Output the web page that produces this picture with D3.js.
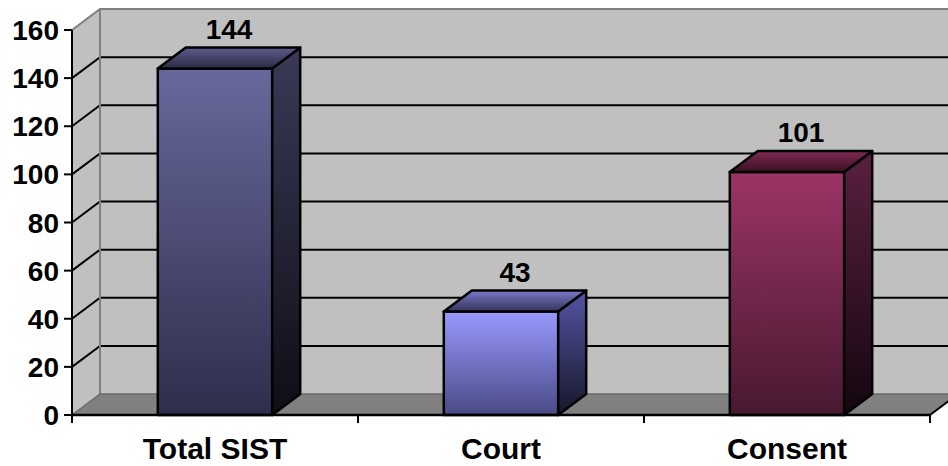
<!DOCTYPE html>
<html>
<head>
<meta charset="utf-8">
<script src="https://cdn.jsdelivr.net/npm/d3@7"></script>
<style>
  html, body { margin: 0; padding: 0; background: #ffffff; }
  svg { display: block; }
  text { font-family: "Liberation Sans", Arial, sans-serif; font-weight: bold; fill: #000; }
</style>
</head>
<body>
<svg id="chart" width="948" height="466"></svg>
<script>
// Case counts per category
const categories = ["Total SIST", "Court", "Consent"];
const values = [144, 43, 101];
const yTicks = [0, 20, 40, 60, 80, 100, 120, 140, 160];

// Face colours for each column: [front top, front bottom, side top, side bottom, lid back, lid front]
const faceColors = [
  ["#68689c", "#2e2e4c", "#3a3a58", "#0e0e16", "#5c5c8c", "#2a2a44"],
  ["#9999ff", "#4a4a86", "#5454a4", "#16162a", "#7a7acc", "#333358"],
  ["#9c3466", "#481830", "#5a2040", "#140610", "#7e2a54", "#3a1024"]
];

const svg = d3.select("#chart");
const plotL = 72, plotR = 930, plotB = 415, plotT = 30;
const dx = 28, dy = -21; // depth offset of the 3D box

const x = d3.scaleBand().domain(categories).range([plotL, plotR])
  .paddingInner(0.6).paddingOuter(0.3);
const xStep = d3.scalePoint().domain(d3.range(categories.length + 1)).range([plotL, plotR]);
const y = d3.scaleLinear().domain([0, 160]).range([plotB, plotT]);

const defs = svg.append("defs");
function vGrad(id, c0, c1) {
  const g = defs.append("linearGradient").attr("id", id)
    .attr("x1", 0).attr("y1", 0).attr("x2", 0).attr("y2", 1);
  g.append("stop").attr("offset", "0%").attr("stop-color", c0);
  g.append("stop").attr("offset", "100%").attr("stop-color", c1);
}
faceColors.forEach((c, i) => {
  vGrad("front" + i, c[0], c[1]);
  vGrad("side" + i, c[2], c[3]);
  vGrad("lid" + i, c[4], c[5]);
});

const pts = a => a.map(p => p.join(",")).join(" ");
const y0 = y(0), yMax = y(160);
const backRight = plotR + dx + 40;

// Walls and floor
const walls = svg.append("g");
walls.append("polygon") // back wall
  .attr("points", pts([[plotL + dx, y0 + dy], [backRight, y0 + dy], [backRight, yMax + dy], [plotL + dx, yMax + dy]]))
  .attr("fill", "#c0c0c0");
walls.append("polygon") // side wall
  .attr("points", pts([[plotL, y0], [plotL + dx, y0 + dy], [plotL + dx, yMax + dy], [plotL, yMax]]))
  .attr("fill", "#c0c0c0");
walls.append("polygon") // floor
  .attr("points", pts([[plotL, y0], [plotR, y0], [plotR + dx, y0 + dy], [plotL + dx, y0 + dy]]))
  .attr("fill", "#808080");

// Gridlines across side wall and back wall
const grid = svg.append("g").attr("fill", "none");
yTicks.filter(v => v > 0 && v < 160).forEach(v => {
  grid.append("polyline")
    .attr("points", pts([[plotL, y(v)], [plotL + dx, y(v) + dy], [backRight, y(v) + dy]]))
    .attr("stroke", "#000").attr("stroke-width", 2);
});
// Wall edges
grid.append("polyline")
  .attr("points", pts([[plotL, yMax], [plotL + dx, yMax + dy], [backRight, yMax + dy]]))
  .attr("stroke", "#808080").attr("stroke-width", 2);
grid.append("line")
  .attr("x1", plotL + dx).attr("x2", plotL + dx).attr("y1", yMax + dy).attr("y2", y0 + dy)
  .attr("stroke", "#808080").attr("stroke-width", 2);
grid.append("polyline")
  .attr("points", pts([[plotL, y0], [plotL + dx, y0 + dy], [backRight, y0 + dy]]))
  .attr("stroke", "#6a6a6a").attr("stroke-width", 1.5);
grid.append("line")
  .attr("x1", plotR).attr("y1", y0).attr("x2", plotR + dx).attr("y2", y0 + dy)
  .attr("stroke", "#000").attr("stroke-width", 2);

// Columns
const bars = svg.append("g").attr("stroke", "#000").attr("stroke-width", 2.5).attr("stroke-linejoin", "round");
categories.forEach((c, i) => {
  const x0 = x(c), x1 = x(c) + x.bandwidth();
  const yt = y(values[i]);
  bars.append("polygon") // front
    .attr("points", pts([[x0, y0], [x1, y0], [x1, yt], [x0, yt]]))
    .attr("fill", `url(#front${i})`);
  bars.append("polygon") // side
    .attr("points", pts([[x1, y0], [x1 + dx, y0 + dy], [x1 + dx, yt + dy], [x1, yt]]))
    .attr("fill", `url(#side${i})`);
  bars.append("polygon") // lid
    .attr("points", pts([[x0, yt], [x1, yt], [x1 + dx, yt + dy], [x0 + dx, yt + dy]]))
    .attr("fill", `url(#lid${i})`);
});

// Value labels
svg.append("g").selectAll("text").data(values).join("text")
  .attr("x", (d, i) => x(categories[i]) + x.bandwidth() / 2 + dx / 2)
  .attr("y", d => y(d) + dy - 9)
  .attr("text-anchor", "middle")
  .attr("font-size", 28)
  .text(d => d);

// Y axis
const yAxis = svg.append("g");
yAxis.append("line").attr("x1", plotL).attr("x2", plotL).attr("y1", y0).attr("y2", yMax)
  .attr("stroke", "#000").attr("stroke-width", 2);
yAxis.selectAll("line.tick").data(yTicks).join("line").attr("class", "tick")
  .attr("x1", plotL - 8).attr("x2", plotL).attr("y1", d => y(d)).attr("y2", d => y(d))
  .attr("stroke", "#000").attr("stroke-width", 2);
yAxis.selectAll("text").data(yTicks).join("text")
  .attr("x", plotL - 13).attr("y", d => y(d)).attr("dy", "0.36em")
  .attr("text-anchor", "end").attr("font-size", 28)
  .text(d => d);

// X axis
const xAxis = svg.append("g");
xAxis.append("line").attr("x1", plotL).attr("x2", plotR).attr("y1", y0).attr("y2", y0)
  .attr("stroke", "#000").attr("stroke-width", 2.5);
xAxis.selectAll("line.tick").data(xStep.domain()).join("line").attr("class", "tick")
  .attr("x1", d => xStep(d)).attr("x2", d => xStep(d)).attr("y1", y0).attr("y2", y0 + 8)
  .attr("stroke", "#000").attr("stroke-width", 2);
xAxis.selectAll("text").data(categories).join("text")
  .attr("x", d => x(d) + x.bandwidth() / 2).attr("y", 459)
  .attr("text-anchor", "middle").attr("font-size", 30)
  .text(d => d);
</script>
</body>
</html>
